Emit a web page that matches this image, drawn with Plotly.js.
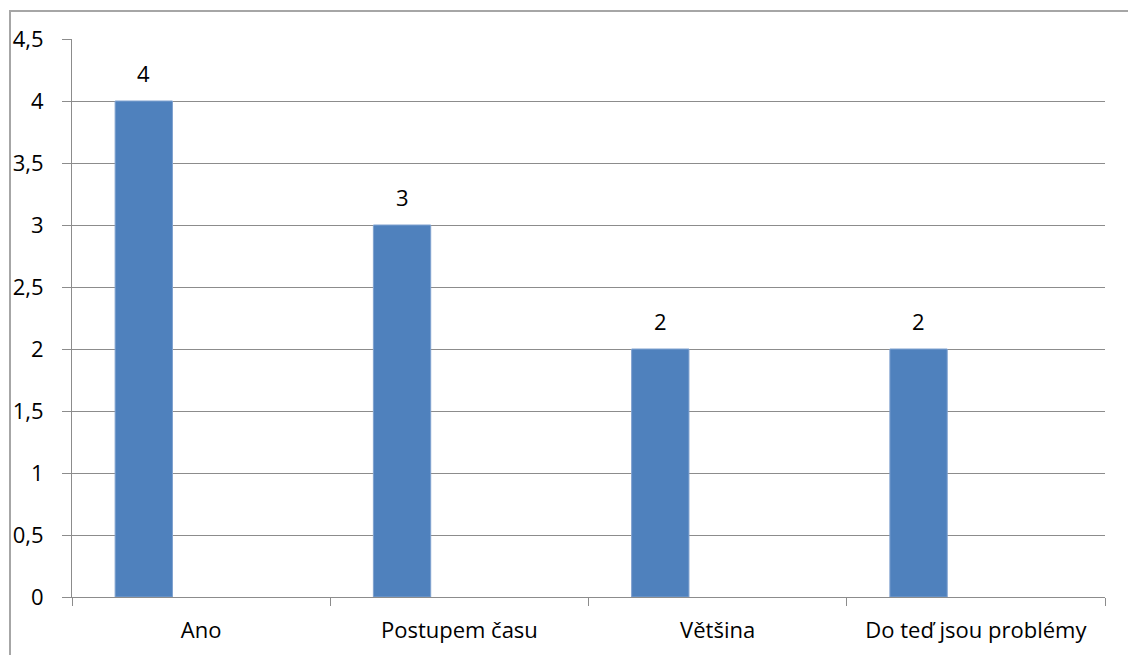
<!DOCTYPE html>
<html>
<head>
<meta charset="utf-8">
<script src="https://cdn.plot.ly/plotly-3.0.1.min.js"></script>
<style>
  html, body { margin: 0; padding: 0; background: #fff; }
  #wrap { position: relative; width: 1128px; height: 655px; overflow: hidden; }
  #chart { position: absolute; left: 0; top: 0; width: 1128px; height: 655px; }
  #frame { position: absolute; left: 9px; top: 10px; width: 1140px; height: 700px;
           border-left: 2px solid #a6a6a6; border-top: 2px solid #a6a6a6; pointer-events: none; }
</style>
</head>
<body>
<div id="wrap">
  <div id="chart"></div>
  <div id="frame"></div>
</div>
<script>
// Answers and their counts
const categories = ['Ano', 'Postupem času', 'Většina', 'Do teď jsou problémy'];
const counts = [4, 3, 2, 2];
const yTickVals = [0, 0.5, 1, 1.5, 2, 2.5, 3, 3.5, 4, 4.5];
const yTickText = ['0', '0,5', '1', '1,5', '2', '2,5', '3', '3,5', '4', '4,5'];

const barWidth = 0.222;
const barOffset = -0.333;
const font = '"Open Sans", "Noto Sans", sans-serif';
const fontSize = 22;

const trace = {
  type: 'bar',
  x: categories,
  y: counts,
  width: barWidth,
  offset: barOffset,
  marker: { color: '#4F81BD', line: { color: '#7FA1CF', width: 1 } },
  hoverinfo: 'x+y'
};

// Value labels above each bar
const annotations = counts.map((v, i) => ({
  x: i + barOffset + barWidth / 2,
  y: v,
  xref: 'x', yref: 'y',
  text: String(v),
  showarrow: false,
  yanchor: 'bottom',
  yshift: 11,
  font: { family: font, size: fontSize, color: '#000' }
}));

const layout = {
  width: 1128, height: 655,
  margin: { l: 72, r: 23, t: 39, b: 58 },
  paper_bgcolor: '#fff', plot_bgcolor: '#fff',
  showlegend: false,
  font: { family: font, size: fontSize, color: '#000' },
  xaxis: {
    type: 'category',
    tickson: 'boundaries',
    ticks: 'outside', ticklen: 8, tickcolor: '#8c8c8c', tickwidth: 1,
    showline: true, linecolor: '#8c8c8c', linewidth: 1,
    showgrid: false,
    ticklabelstandoff: 14,
    tickfont: { family: font, size: fontSize, color: '#000' }
  },
  yaxis: {
    range: [0, 4.5],
    tickvals: yTickVals, ticktext: yTickText,
    ticks: 'outside', ticklen: 9, tickcolor: '#8c8c8c', tickwidth: 1,
    showline: true, linecolor: '#8c8c8c', linewidth: 1,
    showgrid: true, gridcolor: '#8c8c8c', gridwidth: 1,
    zeroline: false,
    ticklabelstandoff: 14,
    tickfont: { family: font, size: fontSize, color: '#000' }
  },
  annotations: annotations
};

Plotly.newPlot('chart', [trace], layout, { displayModeBar: false, staticPlot: true });
</script>
</body>
</html>
